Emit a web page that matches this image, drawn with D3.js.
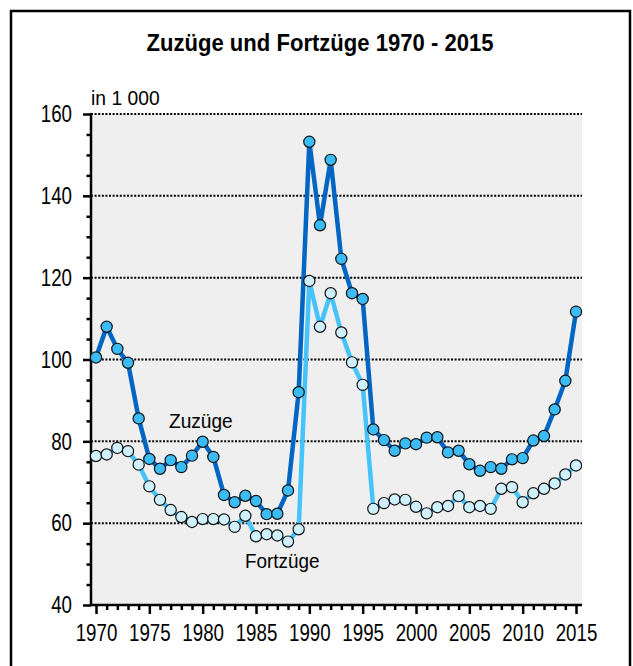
<!DOCTYPE html>
<html><head><meta charset="utf-8">
<script src="https://cdn.jsdelivr.net/npm/d3@7"></script>
<style>body{margin:0;background:#fff}svg{display:block}</style>
</head><body>
<svg id="c" width="633" height="666"></svg>
<script>
const years = d3.range(1970, 2016);
const zuzuege = [100.5,108.0,102.6,99.2,85.6,75.7,73.3,75.4,73.7,76.5,79.9,76.2,66.9,65.1,66.7,65.4,62.2,62.3,68.0,92.0,
  153.2,132.8,148.8,124.6,116.2,114.8,82.9,80.3,77.7,79.5,79.3,80.9,81.0,77.3,77.7,74.4,72.8,73.7,73.3,75.6,75.9,80.2,81.3,87.8,94.8,111.7];
const fortzuege = [76.4,76.8,78.4,77.6,74.3,69.0,65.7,63.2,61.5,60.3,61.0,61.0,60.9,59.1,61.8,56.8,57.3,57.0,55.5,58.5,
  119.2,108.0,116.2,106.6,99.3,93.8,63.5,64.9,65.8,65.7,64.0,62.4,63.9,64.2,66.6,63.9,64.2,63.5,68.4,68.8,65.1,67.3,68.4,69.7,71.9,74.1];
const yTicks = [40,60,80,100,120,140,160];
const xTicks = [1970,1975,1980,1985,1990,1995,2000,2005,2010,2015];

const FONT = "'Liberation Sans',Arial,sans-serif";
const svg = d3.select("#c");
svg.append("rect").attr("x",11).attr("y",11).attr("width",619).attr("height",670)
  .attr("fill","none").attr("stroke","#000").attr("stroke-width",2.5);

function narrowText(sel, x0, y0, sx, size, txt, anchor, weight){
  return sel.append("text").attr("transform",`translate(${x0},${y0}) scale(${sx},1)`)
    .attr("text-anchor",anchor||"start").attr("font-family",FONT).attr("font-size",size)
    .attr("font-weight",weight||"normal").attr("fill","#000").text(txt);
}

narrowText(svg, 320, 51, 0.92, 24, "Zuzüge und Fortzüge 1970 - 2015", "middle", "bold");

const x = d3.scaleLinear().domain([1970,2015]).range([96,576]);
const y = d3.scaleLinear().domain([40,160]).range([605,114]);
const L = 91, R = 582;

svg.append("rect").attr("x",L).attr("y",y(160)).attr("width",R-L).attr("height",y(40)-y(160)).attr("fill","#efefef");

// grid
svg.append("g").selectAll("line").data(yTicks.filter(d=>d>40)).join("line")
  .attr("x1",L).attr("x2",R).attr("y1",d=>y(d)).attr("y2",d=>y(d))
  .attr("stroke","#000").attr("stroke-width",2).attr("stroke-dasharray","2,1.6");

// y axis
const yAxis = d3.axisLeft(y).tickValues(yTicks).tickSize(8).tickPadding(10).tickFormat(d3.format("d"));
const gy = svg.append("g").attr("transform",`translate(${L},0)`).call(yAxis);
const yMinor = d3.axisLeft(y).tickValues(d3.range(40,161,5).filter(d=>d%20)).tickSize(4.5).tickFormat("");
const gy2 = svg.append("g").attr("transform",`translate(${L},0)`).call(yMinor);
[gy,gy2].forEach(g=>{g.select(".domain").remove();g.selectAll("line").attr("stroke","#000").attr("stroke-width",2.5);});
gy.selectAll("text").attr("font-family",FONT).attr("font-size",24).attr("fill","#000")
  .attr("x",0).attr("transform","translate(-19,0) scale(0.78,1)");
svg.append("line").attr("x1",L).attr("x2",L).attr("y1",y(160)-1).attr("y2",y(40)+1).attr("stroke","#000").attr("stroke-width",2.5);

// x axis
const xAxis = d3.axisBottom(x).tickValues(xTicks).tickSize(9).tickPadding(10).tickFormat(d3.format("d"));
const gx = svg.append("g").attr("transform",`translate(0,${y(40)})`).call(xAxis);
const xMinor = d3.axisBottom(x).tickValues(years.filter(d=>d%5)).tickSize(5).tickFormat("");
const gx2 = svg.append("g").attr("transform",`translate(0,${y(40)})`).call(xMinor);
[gx,gx2].forEach(g=>{g.select(".domain").remove();g.selectAll("line").attr("stroke","#000").attr("stroke-width",2.5);});
gx.selectAll("text").attr("font-family",FONT).attr("font-size",24).attr("fill","#000")
  .attr("transform","scale(0.78,1)");
svg.append("line").attr("x1",L-1).attr("x2",R).attr("y1",y(40)).attr("y2",y(40)).attr("stroke","#000").attr("stroke-width",2.5);

narrowText(svg, 91, 105, 0.92, 21, "in 1 000");

const line = d3.line().x((d,i)=>x(years[i])).y(d=>y(d));
svg.append("path").datum(fortzuege).attr("d",line).attr("fill","none").attr("stroke","#45c3fa").attr("stroke-width",4.5).attr("stroke-linejoin","round");
svg.append("path").datum(zuzuege).attr("d",line).attr("fill","none").attr("stroke","#0065c3").attr("stroke-width",4.5).attr("stroke-linejoin","round");

svg.append("g").selectAll("circle").data(fortzuege).join("circle")
  .attr("cx",(d,i)=>x(years[i])).attr("cy",d=>y(d)).attr("r",5.6)
  .attr("fill","#cff0fd").attr("stroke","#111").attr("stroke-width",1.2);
svg.append("g").selectAll("circle").data(zuzuege).join("circle")
  .attr("cx",(d,i)=>x(years[i])).attr("cy",d=>y(d)).attr("r",5.6)
  .attr("fill","#3bbcf7").attr("stroke","#111").attr("stroke-width",1.2);

narrowText(svg, 169, 428, 0.91, 21, "Zuzüge");
narrowText(svg, 245, 568, 0.9, 21, "Fortzüge");
</script>
</body></html>
